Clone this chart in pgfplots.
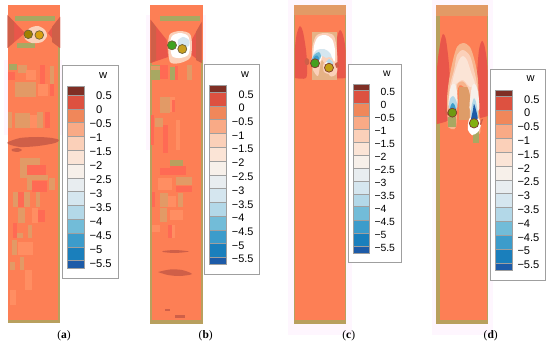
\documentclass[border=0pt]{standalone}
\usepackage{pgfplots}
\pgfplotsset{compat=1.18}
\usepackage{fontspec}
\setmainfont{Liberation Sans}
\newfontfamily\capfont{Liberation Serif}
\definecolor{base}{HTML}{FD7F55}
\definecolor{olive}{HTML}{B8A05E}
\definecolor{tan}{HTML}{E29A66}
\definecolor{hot}{HTML}{FF6A54}
\definecolor{redd}{HTML}{E9564A}
\definecolor{brick}{HTML}{CF5F48}
\definecolor{lite}{HTML}{FF8E62}
\definecolor{grn}{HTML}{A8A862}
\definecolor{halo}{HTML}{FEF6FE}
\definecolor{cA}{HTML}{7F2F25}
\definecolor{cB}{HTML}{DD5140}
\definecolor{cC}{HTML}{F0875A}
\definecolor{cD}{HTML}{F9AA86}
\definecolor{cE}{HTML}{FBD0B9}
\definecolor{cF}{HTML}{FBE4D6}
\definecolor{cG}{HTML}{F7F0EA}
\definecolor{cH}{HTML}{E8EDF0}
\definecolor{cI}{HTML}{D5E6EF}
\definecolor{cJ}{HTML}{B3D8E8}
\definecolor{cK}{HTML}{72BCD8}
\definecolor{cL}{HTML}{3C9CCB}
\definecolor{cM}{HTML}{1A7FBC}
\definecolor{cN}{HTML}{1D5BA8}
\definecolor{sandC}{HTML}{E6B286}
\definecolor{sandD}{HTML}{F7B48C}
\definecolor{notch}{HTML}{DE9C68}
\definecolor{dotA}{HTML}{A08000}
\definecolor{dotB}{HTML}{D9A010}
\definecolor{dotC}{HTML}{3FA31F}
\definecolor{dotD}{HTML}{C8A020}
\definecolor{dotE}{HTML}{45A020}
\definecolor{dotF}{HTML}{C2A015}
\definecolor{dotG}{HTML}{6E9A12}
\definecolor{dotH}{HTML}{82B010}
\newcommand\Rc[5]{\addplot[fill=#1,draw=none] coordinates {(#2,#4)(#3,#4)(#3,#5)(#2,#5)} --cycle;}
\newcommand\Sw[5]{\addplot[fill=#1,draw=gray!75,line width=.4pt] coordinates {(#2,#4)(#3,#4)(#3,#5)(#2,#5)} --cycle;}
\newcommand\Bx[4]{\addplot[fill=white,draw=gray!75,line width=.8pt] coordinates {(#1,#3)(#2,#3)(#2,#4)(#1,#4)} --cycle;}
\newcommand\Pg[2]{\addplot[fill=#1,draw=none] coordinates {#2} --cycle;}
\newcommand\Sm[2]{\addplot[fill=#1,draw=none,smooth] coordinates {#2} --cycle;}
\newcommand\Cir[4]{\addplot[only marks,mark=*,mark size=#4pt,mark options={fill=#3,draw=#1!60!black,line width=.7pt}] coordinates {#2};}
\newcommand\Lb[4]{\node[anchor=west,inner sep=0pt,font=\fontsize{#1}{#1}\selectfont] at (axis cs:#2,#3) {#4};}
\newcommand\Cp[3]{\node[inner sep=0pt,font=\capfont\fontsize{11.5}{11.5}\selectfont] at (axis cs:#1,#2) {(\textbf{#3})};}
\begin{document}
\begin{tikzpicture}
\begin{axis}[hide axis,scale only axis,width=550pt,height=345pt,xmin=0,xmax=550,ymin=0,ymax=345,y dir=reverse,clip=true]
\Rc{white}{0}{550}{0}{345}
% pale halos
\Rc{halo}{288}{352}{0}{335}
\Rc{halo}{432}{493}{0}{335}
\Rc{halo}{4}{62}{60}{135}
\Rc{halo}{146}{206}{15}{150}
% ---------- panel a
\Rc{base}{7.5}{60}{5}{323}
\Rc{olive}{58}{60}{35}{323}
\Rc{olive}{7.5}{60}{320}{323}
\Pg{redd}{(7.5,15)(25,33)(7.5,48)}
\Pg{redd}{(60,17)(48,33)(60,48)}
\Pg{brick}{(52,27)(60,17)(60,48)(52,42)}
\Pg{brick}{(7.5,15)(14,22)(14,42)(7.5,48)}
\Rc{grn}{15}{55}{16.5}{20.7}
\Rc{grn}{17}{35}{43.5}{48}
\Sm{cE}{(24,34)(30,28)(38,26)(45,30)(47,36)(42,42)(32,43)(25,39)(24,34)}
\Rc{grn}{9}{17}{64}{70}
\Rc{hot}{8}{15}{72}{80}
\Rc{tan}{18}{27}{65}{73}
\Rc{hot}{40}{45}{65}{88}
\Rc{tan}{50}{54}{66}{90}
\Rc{lite}{26}{36}{70}{80}
\Rc{tan}{15}{36}{82}{97}
\Rc{lite}{38}{48}{84}{96}
\Rc{hot}{50}{54}{84}{96}
\Rc{tan}{8}{12}{112}{128}
\Rc{tan}{15}{30}{113}{128}
\Rc{tan}{37}{43}{112}{128}
\Rc{hot}{45}{50}{112}{128}
\Rc{lite}{30}{37}{115}{128}
\Sm{brick}{(8,142)(20,138)(38,137)(52,138)(59,140)(55,143)(38,146)(20,147)(8,144)(8,142)}
\Sm{brick}{(12,149)(18,148)(22,150)(18,152)(12,151)(12,149)}
\Rc{tan}{20}{40}{158}{165}
\Rc{hot}{27}{46}{165}{175}
\Rc{tan}{20}{27}{165}{178}
\Rc{tan}{27}{48}{175}{180}
\Rc{tan}{27}{32}{180}{190}
\Rc{hot}{32}{47}{181}{192}
\Rc{tan}{49}{55}{178}{190}
\Rc{tan}{13}{18}{192}{207}
\Rc{hot}{18}{24}{192}{207}
\Rc{tan}{24}{30}{192}{207}
\Rc{tan}{36}{40}{192}{207}
\Rc{tan}{18}{25}{208}{223}
\Rc{lite}{32}{38}{208}{223}
\Rc{hot}{38}{45}{210}{222}
\Rc{hot}{13}{17}{223}{238}
\Rc{tan}{17}{23}{233}{238}
\Rc{tan}{28}{32}{225}{238}
\Rc{tan}{12}{17}{240}{255}
\Rc{lite}{18}{33}{242}{255}
\Rc{tan}{10}{15}{262}{270}
\Rc{tan}{20}{24}{257}{270}
\Rc{lite}{25}{32}{270}{290}
\Rc{lite}{10}{16}{290}{305}
\Cir{olive}{(28.3,34.3)}{dotA}{4.3}
\Cir{olive}{(39.3,35)}{dotB}{4.3}
% colourbar a
\Bx{62}{118}{65.5}{278.7}
\Sw{cA}{66.7}{84}{86.7}{95}
\Sw{cB}{66.7}{84}{95}{108.8}
\Sw{cC}{66.7}{84}{108.8}{122.6}
\Sw{cD}{66.7}{84}{122.6}{136.4}
\Sw{cE}{66.7}{84}{136.4}{150.2}
\Sw{cF}{66.7}{84}{150.2}{164}
\Sw{cG}{66.7}{84}{164}{177.8}
\Sw{cH}{66.7}{84}{177.8}{191.6}
\Sw{cI}{66.7}{84}{191.6}{205.4}
\Sw{cJ}{66.7}{84}{205.4}{219.2}
\Sw{cK}{66.7}{84}{219.2}{233}
\Sw{cL}{66.7}{84}{233}{246.8}
\Sw{cM}{66.7}{84}{246.8}{260.6}
\Sw{cN}{66.7}{84}{260.6}{268.3}
\Lb{11.2}{98.8}{75.7}{w}
\Lb{11.2}{96}{96}{0.5}
\Lb{11.2}{96}{109.9}{0}
\Lb{11.2}{89.4}{123.9}{−0.5}
\Lb{11.2}{89.4}{137.8}{−1}
\Lb{11.2}{89.4}{151.8}{−1.5}
\Lb{11.2}{89.4}{165.7}{−2}
\Lb{11.2}{89.4}{179.6}{−2.5}
\Lb{11.2}{89.4}{193.6}{−3}
\Lb{11.2}{89.4}{207.5}{−3.5}
\Lb{11.2}{89.4}{221.5}{−4}
\Lb{11.2}{89.4}{235.4}{−4.5}
\Lb{11.2}{89.4}{249.4}{−5}
\Lb{11.2}{89.4}{263.3}{−5.5}
\Cp{64}{335.7}{a}
% ---------- panel b
\Rc{base}{150}{203}{5}{324}
\Rc{olive}{201}{203}{60}{324}
\Rc{olive}{150}{151.5}{60}{324}
\Rc{olive}{150}{203}{320}{324}
\Rc{grn}{160}{200}{16}{21}
\Pg{redd}{(150.7,20)(166.7,40)(168,57)(150.7,63)}
\Pg{redd}{(201.7,22)(190,43)(191.7,55)(201.7,63)}
\Pg{brick}{(150.7,20)(156,27)(156,60)(150.7,63)}
\Pg{brick}{(201.7,22)(196,32)(196,60)(201.7,63)}
\Sm{cE}{(168,44)(170,34)(180,31)(190,34)(192,46)(190,58)(180,63)(170,62)(168,44)}
\Sm{white}{(170,44)(172,36)(180,33)(188,36)(190,46)(188,55)(180,58)(172,56)(170,44)}
\Sm{cI}{(178,40)(183,37)(189,40)(189,46)(183,47)(178,45)(178,40)}
\Rc{grn}{151}{160}{65}{80}
\Rc{tan}{151}{160}{66}{70}
\Rc{hot}{160}{168}{65}{79}
\Rc{grn}{170}{175}{67}{80}
\Rc{hot}{175}{178}{66}{80}
\Rc{tan}{187}{192}{65}{80}
\Rc{tan}{160}{170}{97}{113}
\Rc{lite}{170}{175}{97}{112}
\Rc{hot}{172}{175}{100}{112}
\Rc{tan}{155}{163}{118}{127}
\Rc{hot}{163}{168}{125}{153}
\Rc{lite}{176}{180}{120}{150}
\Rc{hot}{151}{154}{115}{145}
\Rc{olive}{170}{183}{160}{166}
\Rc{hot}{160}{170}{168}{175}
\Rc{hot}{170}{186}{166}{175}
\Rc{tan}{176}{192}{177}{185}
\Rc{hot}{176}{192}{186}{192}
\Rc{lite}{158}{172}{178}{190}
\Rc{hot}{152}{155}{192}{207}
\Rc{tan}{160}{168}{193}{207}
\Rc{lite}{168}{176}{196}{207}
\Rc{tan}{178}{183}{193}{207}
\Rc{tan}{160}{167}{208}{222}
\Rc{lite}{170}{183}{210}{220}
\Rc{lite}{152}{160}{225}{232}
\Rc{hot}{168}{172}{225}{238}
\Rc{lite}{172}{175}{225}{238}
\Sm{brick}{(163,251)(175,250)(189,251.5)(175,253)(163,252)(163,251)}
\Sm{brick}{(158,272)(170,269.5)(182,270)(192,274)(180,276)(168,275)(158,272)}
\Rc{brick}{165}{170}{309}{310.5}
\Rc{brick}{175}{185}{315}{318}
\Cir{olive}{(172,45.3)}{dotC}{4.5}
\Cir{olive}{(182.3,49)}{dotD}{4.5}
% colourbar b
\Bx{204}{259.3}{64}{274.7}
\Sw{cA}{209}{226.3}{85.3}{92.3}
\Sw{cB}{209}{226.3}{92.3}{106}
\Sw{cC}{209}{226.3}{106}{119.3}
\Sw{cD}{209}{226.3}{119.3}{133.3}
\Sw{cE}{209}{226.3}{133.3}{147.3}
\Sw{cF}{209}{226.3}{147.3}{161}
\Sw{cG}{209}{226.3}{161}{175.3}
\Sw{cH}{209}{226.3}{175.3}{188.3}
\Sw{cI}{209}{226.3}{188.3}{202.3}
\Sw{cJ}{209}{226.3}{202.3}{216}
\Sw{cK}{209}{226.3}{216}{230}
\Sw{cL}{209}{226.3}{230}{243.3}
\Sw{cM}{209}{226.3}{243.3}{256.7}
\Sw{cN}{209}{226.3}{256.7}{264}
\Lb{10.9}{241}{74.7}{w}
\Lb{10.9}{238.3}{94.3}{0.5}
\Lb{10.9}{238.3}{108}{0}
\Lb{10.9}{231.7}{121.8}{−0.5}
\Lb{10.9}{231.7}{135.5}{−1}
\Lb{10.9}{231.7}{149.3}{−1.5}
\Lb{10.9}{231.7}{163}{−2}
\Lb{10.9}{231.7}{176.8}{−2.5}
\Lb{10.9}{231.7}{190.6}{−3}
\Lb{10.9}{231.7}{204.3}{−3.5}
\Lb{10.9}{231.7}{218.1}{−4}
\Lb{10.9}{231.7}{231.8}{−4.5}
\Lb{10.9}{231.7}{245.6}{−5}
\Lb{10.9}{231.7}{259.3}{−5.5}
\Cp{205.7}{335.7}{b}
% ---------- panel c
\Rc{base}{294.3}{346.3}{5}{324}
\Rc{olive}{294.3}{295.3}{15}{324}
\Rc{olive}{345.3}{346.3}{15}{324}
\Rc{olive}{294.3}{346.3}{320}{324}
\Rc{tan}{294.3}{346.3}{5.5}{15.5}
\Sm{redd}{(295,78)(295,48)(297,33)(300,26)(303,32)(306,50)(307,65)(306,78)(295,78)}
\Sm{redd}{(345.5,78)(345.5,50)(343,35)(340,30)(337,38)(335,55)(335,70)(336,78)(345.5,78)}
\Pg{sandC}{(312,32)(337,32)(337,80)(312,80)}
\Sm{cE}{(313,70)(312,50)(316,36)(325,33)(334,36)(337,52)(337,72)(330,76)(322,60)(318,76)(313,70)}
\Sm{white}{(313,62)(314,46)(318,37)(325,35)(332,39)(335,50)(334,62)(325,50)(320,62)(313,62)}
\Sm{cI}{(311,62)(313,55)(317,50)(324,49)(330,53)(333,62)(329,60)(322,56)(318,62)(311,62)}
\Sm{cK}{(311,62)(314,55)(319,52)(321,56)(319,60)(315,60)(311,62)}
\Sm{cL}{(312,62)(315,56)(318,56)(319,60)(315,60)(312,62)}
\Sm{cE}{(323,66)(326,58)(332,58)(335,66)(334,72)(329,74)(324,72)(323,66)}
\Sm{white}{(325,64)(328,60)(331,60)(333,65)(328,64)(325,64)}
\Sm{cJ}{(326,62)(329,59)(332,61)(333,64)(329,63)(326,62)}
\Sm{brick}{(304.5,61)(306.5,58)(309,60)(309,64)(306,65)(304.5,61)}
\Sm{brick}{(335,64)(337.5,62)(339,66)(336.5,68)(335,64)}
\Cir{brick}{(315,63.3)}{dotE}{4.5}
\Cir{brick}{(329,67.7)}{dotF}{4.5}
% colourbar c
\Bx{348.3}{401}{64}{262.3}
\Sw{cA}{353}{369.3}{84}{90.7}
\Sw{cB}{353}{369.3}{90.7}{103.3}
\Sw{cC}{353}{369.3}{103.3}{116}
\Sw{cD}{353}{369.3}{116}{129}
\Sw{cE}{353}{369.3}{129}{142}
\Sw{cF}{353}{369.3}{142}{155}
\Sw{cG}{353}{369.3}{155}{168.3}
\Sw{cH}{353}{369.3}{168.3}{181.7}
\Sw{cI}{353}{369.3}{181.7}{194.3}
\Sw{cJ}{353}{369.3}{194.3}{206.7}
\Sw{cK}{353}{369.3}{206.7}{220}
\Sw{cL}{353}{369.3}{220}{233.3}
\Sw{cM}{353}{369.3}{233.3}{246}
\Sw{cN}{353}{369.3}{246}{252.7}
\Lb{10.4}{383}{73.3}{w}
\Lb{10.4}{380.5}{92}{0.5}
\Lb{10.4}{380.5}{105}{0}
\Lb{10.4}{374.3}{118}{−0.5}
\Lb{10.4}{374.3}{131}{−1}
\Lb{10.4}{374.3}{144}{−1.5}
\Lb{10.4}{374.3}{157}{−2}
\Lb{10.4}{374.3}{170}{−2.5}
\Lb{10.4}{374.3}{183}{−3}
\Lb{10.4}{374.3}{196}{−3.5}
\Lb{10.4}{374.3}{209}{−4}
\Lb{10.4}{374.3}{222}{−4.5}
\Lb{10.4}{374.3}{235}{−5}
\Lb{10.4}{374.3}{248}{−5.5}
\Cp{348.7}{335.7}{c}
% ---------- panel d
\Rc{base}{436}{488}{5.5}{324}
\Rc{olive}{436}{439.5}{16}{324}
\Rc{olive}{487}{488}{16}{324}
\Rc{olive}{436}{488}{320}{324}
\Rc{tan}{436}{488}{5.5}{16}
\Sm{redd}{(437,124)(437,70)(440,45)(443,34)(446,40)(449,65)(451,100)(452,118)(437,124)}
\Sm{redd}{(487.5,116)(487.5,70)(485,48)(482,41)(479,50)(477,75)(476,105)(476,118)(487.5,116)}
\Sm{sandD}{(448,127)(447,100)(449,80)(453,60)(457,47)(463,43)(470,47)(475,62)(478,80)(479,110)(480,133)(470,133)(470,100)(465,88)(458,88)(456,127)(448,127)}
\Rc{notch}{459}{470}{87}{120}
\Sm{cE}{(448,105)(450,85)(454,70)(457,55)(463,50)(470,56)(474,70)(477,85)(478,110)(470,128)(470,95)(464,82)(457,85)(456,108)(448,105)}
\Sm{cF}{(450,92)(454,75)(459,60)(463,56)(467,60)(471,72)(475,84)(470,87)(463,80)(456,84)(450,92)}
\Rc{grn}{448}{456}{117}{127}
\Rc{grn}{473}{479}{130}{143}
\Sm{cG}{(449,98)(451,86)(455,84)(457,92)(457,106)(449,106)(449,98)}
\Sm{cJ}{(448.5,108)(450,99)(453,96)(456,100)(457,108)(448.5,108)}
\Sm{cL}{(449,112)(451,105)(453,103)(455,106)(456,112)(449,112)}
\Sm{cG}{(470,100)(472,86)(475,84)(478,92)(479,110)(470,110)(470,100)}
\Sm{white}{(468,124)(470,118)(478,118)(481,124)(478,132)(472,135)(468,130)(468,124)}
\Sm{cJ}{(470.5,115)(472,104)(474,98)(476,102)(478,115)(476,120)(472,120)(470.5,115)}
\Sm{cN}{(471,119)(473,110)(474,104)(476,110)(477.5,119)(471,119)}
\Sm{brick}{(445,108)(447,112)(449,115)(446,114)(445,108)}
\Sm{brick}{(481,120)(483,119)(481,125)(480,124)(481,120)}
\Cir{brick}{(452.3,112.7)}{dotG}{4.5}
\Cir{brick}{(474,123.3)}{dotH}{4.7}
% colourbar d
\Bx{490.3}{545.7}{69.3}{280}
\Sw{cA}{495}{512.3}{90}{96.7}
\Sw{cB}{495}{512.3}{96.7}{110.7}
\Sw{cC}{495}{512.3}{110.7}{124.3}
\Sw{cD}{495}{512.3}{124.3}{138.3}
\Sw{cE}{495}{512.3}{138.3}{152.3}
\Sw{cF}{495}{512.3}{152.3}{166}
\Sw{cG}{495}{512.3}{166}{180}
\Sw{cH}{495}{512.3}{180}{193.3}
\Sw{cI}{495}{512.3}{193.3}{207.3}
\Sw{cJ}{495}{512.3}{207.3}{221}
\Sw{cK}{495}{512.3}{221}{235}
\Sw{cL}{495}{512.3}{235}{249}
\Sw{cM}{495}{512.3}{249}{262.7}
\Sw{cN}{495}{512.3}{262.7}{270}
\Lb{11.1}{526.3}{79}{w}
\Lb{11.1}{524}{99.3}{0.5}
\Lb{11.1}{524}{113.1}{0}
\Lb{11.1}{517.3}{126.9}{−0.5}
\Lb{11.1}{517.3}{140.7}{−1}
\Lb{11.1}{517.3}{154.5}{−1.5}
\Lb{11.1}{517.3}{168.3}{−2}
\Lb{11.1}{517.3}{182.1}{−2.5}
\Lb{11.1}{517.3}{195.9}{−3}
\Lb{11.1}{517.3}{209.7}{−3.5}
\Lb{11.1}{517.3}{223.5}{−4}
\Lb{11.1}{517.3}{237.3}{−4.5}
\Lb{11.1}{517.3}{251.1}{−5}
\Lb{11.1}{517.3}{265}{−5.5}
\Cp{490.7}{335.7}{d}
\end{axis}
\end{tikzpicture}
\end{document}
